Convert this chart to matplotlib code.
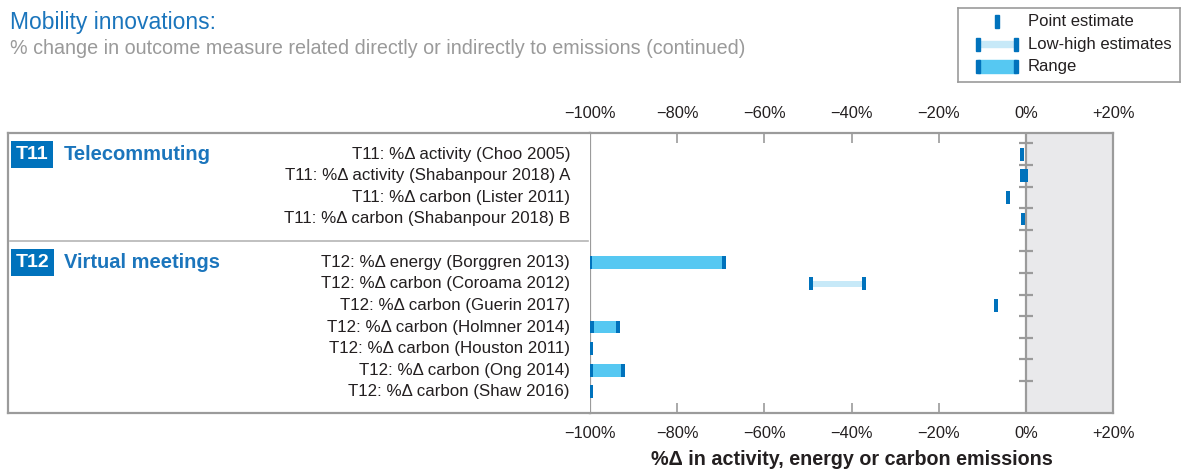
import numpy as np
import matplotlib.pyplot as plt
from matplotlib.patches import Rectangle

plt.rcParams['font.family'] = ['Liberation Sans', 'DejaVu Sans']

# data (% change)
labels = ['T11: %Δ activity (Choo 2005)',
          'T11: %Δ activity (Shabanpour 2018) A',
          'T11: %Δ carbon (Lister 2011)',
          'T11: %Δ carbon (Shabanpour 2018) B',
          None,
          'T12: %Δ energy (Borggren 2013)',
          'T12: %Δ carbon (Coroama 2012)',
          'T12: %Δ carbon (Guerin 2017)',
          'T12: %Δ carbon (Holmner 2014)',
          'T12: %Δ carbon (Houston 2011)',
          'T12: %Δ carbon (Ong 2014)',
          'T12: %Δ carbon (Shaw 2016)']
kind = ['point', 'range', 'point', 'point', None,
        'range', 'lowhigh', 'point', 'range', 'point', 'range', 'point']
low = [-0.85, -0.8, -4.1, -0.6, np.nan, -100, -49.3, -6.8, -99.5, -99.8, -99.8, -99.8]
high = [-0.85, 0.0, -4.1, -0.6, np.nan, -69.3, -37.2, -6.8, -93.6, -99.8, -92.5, -99.8]
groups = [('T11', 'Telecommuting', 0), ('T12', 'Virtual meetings', 5)]
xticks = [-100, -80, -60, -40, -20, 0, 20]
xticklabels = ['\u2212100%', '\u221280%', '\u221260%', '\u221240%', '\u221220%', '0%', '+20%']

dark = '#0072BC'
rng = '#56C8F2'
lowhigh = '#C7E9F8'
grey = '#9B9B9B'
title_blue = '#1B75BC'

W, H = 1185, 472
fig = plt.figure(figsize=(W / 100, H / 100), dpi=100)

def fr(x0, y0, x1, y1):
    return [x0 / W, 1 - y1 / H, (x1 - x0) / W, (y1 - y0) / H]

ax = fig.add_axes(fr(590, 133, 1113, 413))
lab = fig.add_axes(fr(8, 133, 590, 413))

n = len(labels)
ylim = (n - 0.02, -0.98)
ax.set_xlim(-100, 20)
ax.set_ylim(*ylim)
ax.axvspan(0, 20, color='#E9E9EB', zorder=0)
ax.axvline(0, color=grey, lw=1.6, zorder=1)
ax.hlines(np.arange(-0.5, n - 1), -1.6, 1.6, color=grey, lw=1.6, zorder=1)

cw = 0.95   # cap width in %
bh = 0.6
for i in range(n):
    k = kind[i]
    if k is None:
        continue
    if k == 'point':
        ax.barh(i, cw, left=low[i] - cw / 2, height=bh, color=dark, zorder=3)
        continue
    if k == 'range':
        ax.barh(i, high[i] - low[i], left=low[i], height=bh, color=rng, zorder=2)
    else:
        ax.barh(i, high[i] - low[i], left=low[i], height=bh * 0.5, color=lowhigh, zorder=2)
    for v in (low[i], high[i]):
        ax.barh(i, cw, left=v - cw / 2, height=bh, color=dark, zorder=3)

ax.set_xticks(xticks)
ax.set_xticklabels(xticklabels)
ax.set_yticks([])
ax.tick_params(axis='x', which='both', direction='in', length=7, width=1.2, color=grey,
               top=True, labeltop=True, labelsize=11.8, pad=9, labelcolor='#231F20')
for s in ax.spines.values():
    s.set_color(grey)
    s.set_linewidth(1.6)
ax.set_xlabel('%Δ in activity, energy or carbon emissions', fontsize=14.2, fontweight='bold',
              color='#231F20', labelpad=7)

# label panel
lab.set_ylim(*ylim)
lab.set_xlim(0, 582)
lab.set_xticks([])
lab.set_yticks([])
lab.spines['right'].set_visible(False)
for s in ['left', 'top', 'bottom']:
    lab.spines[s].set_color(grey)
    lab.spines[s].set_linewidth(1.6)
for i, t in enumerate(labels):
    if t:
        lab.text(562, i, t, ha='right', va='center', fontsize=12.2, color='#231F20')
lab.plot([2, 580], [4, 4], color='#B5B5B5', lw=1.2, clip_on=False)
for code, name, row in groups:
    lab.text(8, row, code, ha='left', va='center', fontsize=14, fontweight='bold', color='white',
             bbox=dict(boxstyle='square,pad=0.25', fc=dark, ec='none'))
    lab.text(56, row, name, ha='left', va='center', fontsize=14.5, fontweight='bold', color=title_blue)

# titles
fig.text(10 / W, 1 - 23 / H, 'Mobility innovations:', fontsize=16.5, color=title_blue, va='center')
fig.text(10 / W, 1 - 49 / H,
         '% change in outcome measure related directly or indirectly to emissions (continued)',
         fontsize=14.2, color='#9A9A9A', va='center')

# legend box
leg = fig.add_axes(fr(958, 8, 1180, 82))
leg.set_xlim(958, 1180)
leg.set_ylim(82, 8)
leg.set_xticks([])
leg.set_yticks([])
for s in leg.spines.values():
    s.set_color(grey)
    s.set_linewidth(1.2)
leg.add_patch(Rectangle((995, 15), 4, 13, color=dark))
leg.add_patch(Rectangle((978, 41), 38, 6, color=lowhigh))
leg.add_patch(Rectangle((978, 60), 38, 13, color=rng))
for yy in (38, 60):
    leg.add_patch(Rectangle((976, yy), 4, 13, color=dark))
    leg.add_patch(Rectangle((1014, yy), 4, 13, color=dark))
for yy, t in [(21, 'Point estimate'), (44, 'Low-high estimates'), (66, 'Range')]:
    leg.text(1028, yy, t, va='center', ha='left', fontsize=12, color='#231F20')

fig.savefig('out.png', dpi=100)
